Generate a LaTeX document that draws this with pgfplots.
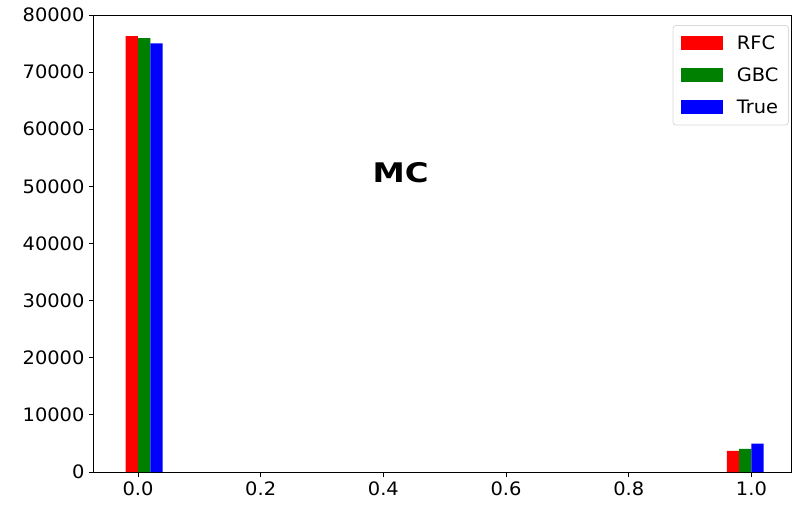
\documentclass[border=0pt]{standalone}
\usepackage{pgfplots}
\pgfplotsset{compat=1.18}
\usepackage{fontspec}
\setmainfont{DejaVu Sans}[FakeStretch=1.05]
\newfontfamily\titlefont{DejaVu Sans}[FakeStretch=1.2]
\definecolor{mgreen}{rgb}{0,0.5,0}
\begin{document}
\begin{tikzpicture}
\begin{axis}[
  name=ax,
  scale only axis, width=697pt, height=457pt,
  xmin=-0.0717, xmax=1.0645, ymin=0, ymax=80000,
  xtick={0,0.2,0.4,0.6,0.8,1},
  xticklabels={0.0,0.2,0.4,0.6,0.8,1.0},
  ytick={0,10000,20000,30000,40000,50000,60000,70000,80000},
  scaled y ticks=false,
  yticklabel style={/pgf/number format/fixed,/pgf/number format/1000 sep={}},
  /pgf/number format/assume math mode=true,
  tick align=outside, major tick length=5pt, tick pos=left,
  tick style={line width=0.9pt, black},
  ticklabel style={font=\fontsize{18.5}{18.5}\selectfont},
  xticklabel style={yshift=-1pt},
  yticklabel style={xshift=-1pt},
  axis line style={line width=1pt},
  clip=false,
  ybar, bar width=0.02,
  legend cell align=left,
  legend style={at={(rel axis cs:0.997,0.978)}, anchor=north east,
    draw=black!15, rounded corners=3pt, line width=0.8pt,
    font=\fontsize{18.5}{18.5}\selectfont,
    inner xsep=8pt, inner ysep=8pt,
    row sep=13pt, /tikz/every even column/.append style={column sep=8pt}},
  legend image code/.code={\fill[#1, sharp corners] (0pt,-7pt) rectangle (42pt,7pt);},
]
\addplot[fill=red, draw=none, bar shift=0pt] coordinates {(-0.01,76320) (0.97,3680)};
\addlegendentry{\hspace{12pt}RFC}
\addplot[fill=mgreen, draw=none, bar shift=0pt] coordinates {(0.01,75960) (0.99,4040)};
\addlegendentry{\hspace{12pt}GBC}
\addplot[fill=blue, draw=none, bar shift=0pt] coordinates {(0.03,75030) (1.01,4970)};
\addlegendentry{\hspace{12pt}True}
\node[font=\titlefont\bfseries\fontsize{27}{27}\selectfont] at (axis cs:0.428,52430) {MC};
\path (rel axis cs:0,0) ++(-94pt,-37pt) rectangle ++(792pt,509pt);
\end{axis}
\end{tikzpicture}
\end{document}
